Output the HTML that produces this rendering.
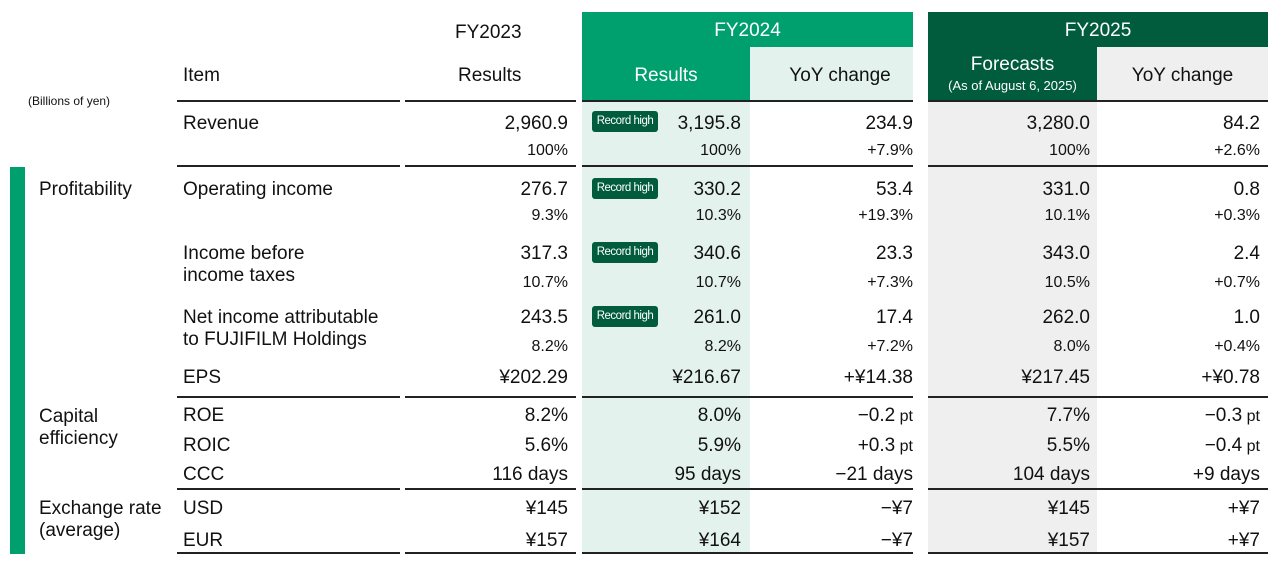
<!DOCTYPE html>
<html><head><meta charset="utf-8"><style>
body{margin:0;width:1278px;height:567px;background:#fff;position:relative;overflow:hidden;font-family:"Liberation Sans",sans-serif;color:#111}
.a{position:absolute;white-space:nowrap}
.r{text-align:right}
.v{font-size:19px;margin-top:2px}
.p{font-size:16px;margin-top:1px}
.ln{position:absolute;height:2px;background:#222}
.b{position:absolute;background:#005c3c;color:#fff;font-size:11.5px;letter-spacing:-0.5px;border-radius:3px;width:66px;height:21px;line-height:21px;text-align:center}
</style></head><body>
<div class="a" style="left:582px;top:12px;width:331px;height:35px;background:#00a06e"></div>
<div class="a" style="left:582px;top:47px;width:168px;height:54px;background:#00a06e"></div>
<div class="a" style="left:750px;top:47px;width:163px;height:54px;background:#e3f2ec"></div>
<div class="a" style="left:582px;top:101px;width:168px;height:452px;background:#e3f2ec"></div>
<div class="a" style="left:928px;top:12px;width:340px;height:89px;background:#005c3c"></div>
<div class="a" style="left:1097px;top:47px;width:171px;height:54px;background:#efefef"></div>
<div class="a" style="left:928px;top:101px;width:169px;height:452px;background:#efefef"></div>
<div class="a" style="left:10px;top:167px;width:15px;height:387px;background:#00a06e"></div>
<div class="a v" style="left:455px;top:20px">FY2023</div>
<div class="a v" style="left:458px;top:63px">Results</div>
<div class="a v" style="left:183px;top:63px">Item</div>
<div class="a" style="left:28px;top:94px;font-size:12px">(Billions of yen)</div>
<div class="a v" style="left:582px;width:331px;top:18px;text-align:center;color:#fff">FY2024</div>
<div class="a v" style="left:582px;width:168px;top:63px;text-align:center;color:#fff">Results</div>
<div class="a v" style="left:750px;width:180px;top:63px;text-align:center">YoY change</div>
<div class="a v" style="left:928px;width:340px;top:18px;text-align:center;color:#fff">FY2025</div>
<div class="a v" style="left:928px;width:169px;top:52px;text-align:center;color:#fff">Forecasts</div>
<div class="a" style="left:928px;width:169px;top:78px;text-align:center;color:#fff;font-size:13px">(As of August 6, 2025)</div>
<div class="a v" style="left:1097px;width:171px;top:63px;text-align:center">YoY change</div>
<div class="ln" style="left:177px;width:223px;top:100px"></div><div class="ln" style="left:405px;width:171px;top:100px"></div><div class="ln" style="left:582px;width:331px;top:100px"></div><div class="ln" style="left:928px;width:340px;top:100px"></div>
<div class="ln" style="left:177px;width:223px;top:165px"></div><div class="ln" style="left:405px;width:171px;top:165px"></div><div class="ln" style="left:582px;width:331px;top:165px"></div><div class="ln" style="left:928px;width:340px;top:165px"></div>
<div class="ln" style="left:177px;width:223px;top:396px"></div><div class="ln" style="left:405px;width:171px;top:396px"></div><div class="ln" style="left:582px;width:331px;top:396px"></div><div class="ln" style="left:928px;width:340px;top:396px"></div>
<div class="ln" style="left:177px;width:223px;top:488px"></div><div class="ln" style="left:405px;width:171px;top:488px"></div><div class="ln" style="left:582px;width:331px;top:488px"></div><div class="ln" style="left:928px;width:340px;top:488px"></div>
<div class="ln" style="left:177px;width:223px;top:552px"></div><div class="ln" style="left:405px;width:171px;top:552px"></div><div class="ln" style="left:582px;width:331px;top:552px"></div><div class="ln" style="left:928px;width:340px;top:552px"></div>
<div class="a v" style="left:39px;top:177px">Profitability</div>
<div class="a v" style="left:39px;top:404px;line-height:22px">Capital<br>efficiency</div>
<div class="a v" style="left:39px;top:496px;line-height:22px">Exchange rate<br>(average)</div>
<div class="a v" style="left:183px;top:111px">Revenue</div>
<div class="a v" style="left:183px;top:177px">Operating income</div>
<div class="a v" style="left:183px;top:241px;line-height:22px">Income before<br>income taxes</div>
<div class="a v" style="left:183px;top:305px;line-height:22px">Net income attributable<br>to FUJIFILM Holdings</div>
<div class="a v" style="left:183px;top:365px">EPS</div>
<div class="a v" style="left:183px;top:403px">ROE</div>
<div class="a v" style="left:183px;top:433px">ROIC</div>
<div class="a v" style="left:183px;top:462px">CCC</div>
<div class="a v" style="left:183px;top:496px">USD</div>
<div class="a v" style="left:183px;top:528px">EUR</div>
<div class="b" style="left:592px;top:111px">Record high</div>
<div class="b" style="left:592px;top:178px">Record high</div>
<div class="b" style="left:592px;top:242px">Record high</div>
<div class="b" style="left:592px;top:306px">Record high</div>
<div id="vals"></div>
<script>
var rows=[
[111,'v',['2,960.9','3,195.8','234.9','3,280.0','84.2']],
[141,'p',['100%','100%','+7.9%','100%','+2.6%']],
[177,'v',['276.7','330.2','53.4','331.0','0.8']],
[206,'p',['9.3%','10.3%','+19.3%','10.1%','+0.3%']],
[241,'v',['317.3','340.6','23.3','343.0','2.4']],
[273,'p',['10.7%','10.7%','+7.3%','10.5%','+0.7%']],
[305,'v',['243.5','261.0','17.4','262.0','1.0']],
[337,'p',['8.2%','8.2%','+7.2%','8.0%','+0.4%']],
[365,'v',['¥202.29','¥216.67','+¥14.38','¥217.45','+¥0.78']],
[403,'v',['8.2%','8.0%','\u22120.2 pt','7.7%','\u22120.3 pt']],
[433,'v',['5.6%','5.9%','+0.3 pt','5.5%','\u22120.4 pt']],
[462,'v',['116 days','95 days','\u221221 days','104 days','+9 days']],
[496,'v',['¥145','¥152','\u2212¥7','¥145','+¥7']],
[528,'v',['¥157','¥164','\u2212¥7','¥157','+¥7']]];
var R=[568,741,913,1090,1260],h='';
rows.forEach(function(r){r[2].forEach(function(t,i){
var s=t;
if(r[1]=='v'&&/pt$/.test(t)){s=t.replace(' pt','<span style="font-size:16px"> pt</span>')}
h+='<div class="a r '+r[1]+'" style="right:'+(1278-R[i])+'px;top:'+r[0]+'px">'+s+'</div>';});});
document.getElementById('vals').innerHTML=h;
</script>
</body></html>
